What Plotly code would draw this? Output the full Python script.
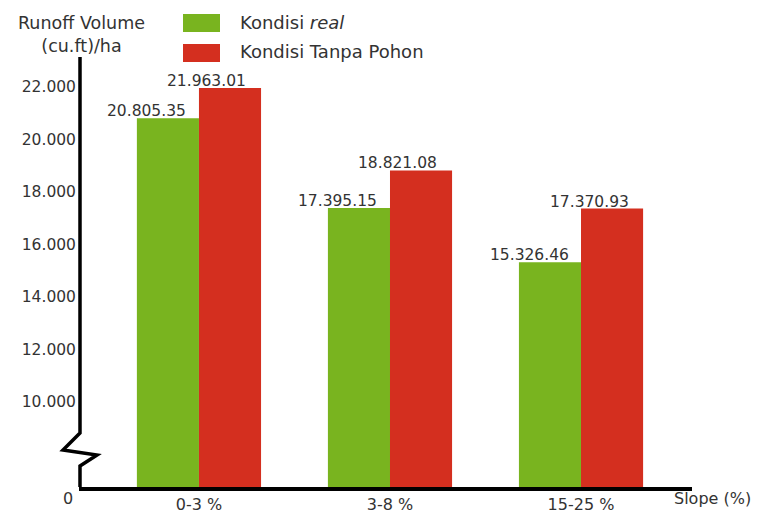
import plotly.graph_objects as go

categories = ["0-3 %", "3-8 %", "15-25 %"]
real_values = [20805.35, 17395.15, 15326.46]
tanpa_values = [21963.01, 18821.08, 17370.93]
real_labels = ["20.805.35", "17.395.15", "15.326.46"]
tanpa_labels = ["21.963.01", "18.821.08", "17.370.93"]
tick_values = [10000, 12000, 14000, 16000, 18000, 20000, 22000]
tick_labels = ["10.000", "12.000", "14.000", "16.000", "18.000", "20.000", "22.000"]

GREEN = "#79b41f"
RED = "#d42f1f"
FONT = "DejaVu Sans"
TXT = "#333333"

W, H = 757, 514
# plot area in page pixels
L, R, T, B = 79, 692, 57, 487
PW, PH = R - L, B - T
Y0, Y1 = 6762, 23143


def px(x):
    return (x - L) / PW


def py(y):
    return (B - y) / PH


fig = go.Figure()
fig.add_trace(go.Bar(x=categories, y=real_values, name="Kondisi real",
                     marker=dict(color=GREEN, line=dict(width=0)), showlegend=False))
fig.add_trace(go.Bar(x=categories, y=tanpa_values, name="Kondisi Tanpa Pohon",
                     marker=dict(color=RED, line=dict(width=0)), showlegend=False))

annotations = []
for c, v, t in zip(categories, real_values, real_labels):
    annotations.append(dict(x=c, y=v, text=t, showarrow=False, xref="x", yref="y",
                            xanchor="center", yanchor="bottom", xshift=-52, yshift=-4,
                            font=dict(family=FONT, size=15.5, color=TXT)))
for c, v, t in zip(categories, tanpa_values, tanpa_labels):
    annotations.append(dict(x=c, y=v, text=t, showarrow=False, xref="x", yref="y",
                            xanchor="center", yanchor="bottom", xshift=8, yshift=-4,
                            font=dict(family=FONT, size=15.5, color=TXT)))

annotations.append(dict(x=px(81), y=py(34), xref="paper", yref="paper", showarrow=False,
                        text="Runoff Volume<br>(cu.ft)/ha", align="center",
                        xanchor="center", yanchor="middle",
                        font=dict(family=FONT, size=17.5, color=TXT)))
annotations.append(dict(x=px(68), y=py(498), xref="paper", yref="paper", showarrow=False,
                        text="0", xanchor="center", yanchor="middle",
                        font=dict(family=FONT, size=16, color=TXT)))
annotations.append(dict(x=px(672), y=py(498), xref="paper", yref="paper", showarrow=False,
                        text="Slope (%)", xanchor="left", yanchor="middle",
                        font=dict(family=FONT, size=16, color=TXT)))
annotations.append(dict(x=px(238), y=py(22), xref="paper", yref="paper", showarrow=False,
                        text="Kondisi <i>real</i>", xanchor="left", yanchor="middle",
                        font=dict(family=FONT, size=18, color=TXT)))
annotations.append(dict(x=px(238), y=py(52), xref="paper", yref="paper", showarrow=False,
                        text="Kondisi Tanpa Pohon", xanchor="left", yanchor="middle",
                        font=dict(family=FONT, size=18, color=TXT)))

shapes = [
    dict(type="rect", xref="paper", yref="paper", x0=px(183), x1=px(220), y0=py(14), y1=py(32),
         fillcolor=GREEN, line=dict(width=0)),
    dict(type="rect", xref="paper", yref="paper", x0=px(183), x1=px(220), y0=py(44), y1=py(62),
         fillcolor=RED, line=dict(width=0)),
]
pts = [(80, 57), (80, 433), (63, 450), (97, 455), (80, 466), (80, 487)]
path = "M " + " L ".join(f"{px(a):.5f},{py(b):.5f}" for a, b in pts)
shapes.append(dict(type="path", xref="paper", yref="paper", path=path,
                   line=dict(color="black", width=3.5)))

fig.update_layout(
    width=W, height=H,
    margin=dict(l=L, r=W - R, t=T, b=H - B, pad=0, autoexpand=False),
    paper_bgcolor="white", plot_bgcolor="white",
    barmode="group", bargap=0.35, bargroupgap=0,
    annotations=annotations, shapes=shapes,
    showlegend=False,
    xaxis=dict(type="category", range=[-0.628, 2.581], showgrid=False, zeroline=False,
               showline=True, linecolor="black", linewidth=3.5, ticks="",
               automargin=False,
               tickfont=dict(family=FONT, size=16, color=TXT), fixedrange=True),
    yaxis=dict(range=[Y0, Y1], tickvals=tick_values, ticktext=tick_labels,
               showgrid=False, zeroline=False, showline=False, ticks="",
               automargin=False, ticklabelstandoff=2,
               tickfont=dict(family=FONT, size=15.5, color=TXT), fixedrange=True),
)

fig.write_html(
    "out.html",
    config={"displayModeBar": False, "staticPlot": True},
    post_script="document.body.style.margin='0';document.body.style.overflow='hidden';",
)
